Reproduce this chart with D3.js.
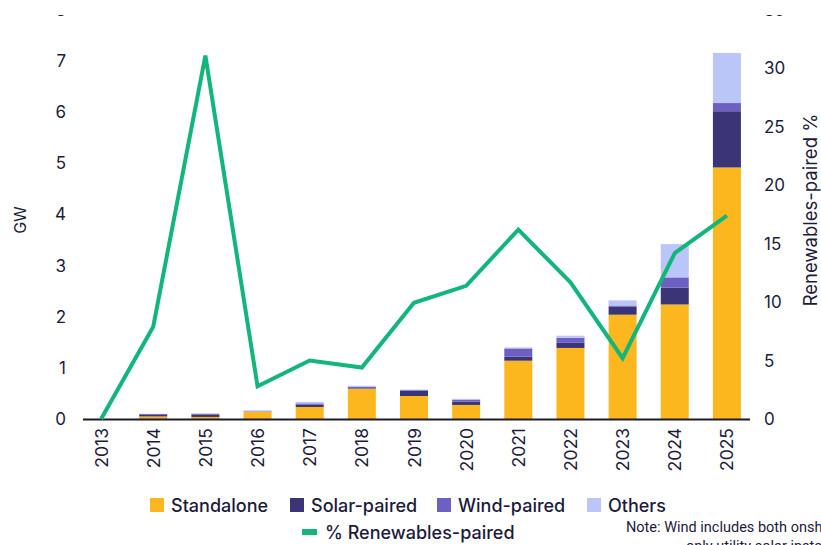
<!DOCTYPE html>
<html>
<head>
<meta charset="utf-8">
<script src="https://cdn.jsdelivr.net/npm/d3@7/dist/d3.min.js"></script>
<style>
  html, body { margin: 0; padding: 0; background: #fff; }
  svg { display: block; font-family: Inter, "Noto Sans", sans-serif; }
</style>
</head>
<body>
<svg id="chart" width="821" height="545"></svg>
<script>
// Battery storage additions by pairing type (GW) and share paired with renewables (%)
const years = ["2013","2014","2015","2016","2017","2018","2019","2020","2021","2022","2023","2024","2025"];
const standalone  = [0, 0.05, 0.04, 0.14, 0.235, 0.59, 0.45, 0.275, 1.14, 1.39, 2.04, 2.24, 4.92];
const solarPaired = [0, 0.04, 0.05, 0.00, 0.05, 0.01, 0.10, 0.065, 0.08, 0.10, 0.16, 0.33, 1.10];
const windPaired  = [0, 0.01, 0.01, 0.01, 0.02, 0.03, 0.015, 0.04, 0.16, 0.10, 0.02, 0.20, 0.16];
const others      = [0, 0.00, 0.01, 0.02, 0.03, 0.02, 0.01, 0.015, 0.02, 0.04, 0.10, 0.65, 0.98];
const renewablesPct = [0, 7.9, 31.1, 2.8, 5.0, 4.4, 9.95, 11.4, 16.2, 11.7, 5.2, 14.2, 17.4];

const gwTicks  = [0, 1, 2, 3, 4, 5, 6, 7, 8];
const pctTicks = [0, 5, 10, 15, 20, 25, 30, 35];

const seriesKeys   = ["Standalone", "Solar-paired", "Wind-paired", "Others"];
const seriesColors = ["#fdb71e", "#3b3577", "#6e5fc3", "#bac5f8"];
const lineLabel = "% Renewables-paired";
const lineColor = "#12b67a";
const textColor = "#1c1b3b";

const rows = years.map((y, i) => ({
  year: y,
  "Standalone": standalone[i],
  "Solar-paired": solarPaired[i],
  "Wind-paired": windPaired[i],
  "Others": others[i]
}));

const svg = d3.select("#chart");

// the figure is cut at the top edge
svg.append("defs").append("clipPath").attr("id", "crop")
  .append("rect").attr("x", 0).attr("y", 15).attr("width", 821).attr("height", 545);
const root = svg.append("g").attr("clip-path", "url(#crop)");

const x = d3.scaleBand().domain(years).range([75, 753]).paddingInner(0.463).paddingOuter(0.2315);
const yL = d3.scaleLinear().domain([0, 8]).range([419, 10]);
const yR = d3.scaleLinear().domain([0, 35]).range([419, 10]);

const stack = d3.stack().keys(seriesKeys)(rows);
const color = d3.scaleOrdinal().domain(seriesKeys).range(seriesColors);

// stacked bars
root.append("g").selectAll("g").data(stack).join("g")
  .attr("fill", d => color(d.key))
  .selectAll("rect").data(d => d).join("rect")
  .attr("x", d => x(d.data.year))
  .attr("width", x.bandwidth())
  .attr("y", d => yL(d[1]))
  .attr("height", d => yL(d[0]) - yL(d[1]));

// baseline
root.append("line")
  .attr("x1", 83).attr("x2", 750)
  .attr("y1", yL(0) + 0.5).attr("y2", yL(0) + 0.5)
  .attr("stroke", "#1c1b2b").attr("stroke-width", 2);

// renewables-paired share line
const line = d3.line()
  .x((d, i) => x(years[i]) + x.bandwidth() / 2)
  .y(d => yR(d));
root.append("path").datum(renewablesPct)
  .attr("d", line)
  .attr("fill", "none")
  .attr("stroke", lineColor)
  .attr("stroke-width", 4)
  .attr("stroke-linejoin", "miter");

// left axis
const leftAxis = root.append("g")
  .attr("transform", "translate(66,0)")
  .call(d3.axisLeft(yL).tickValues(gwTicks).tickSize(0).tickPadding(0).tickFormat(d3.format("d")));
leftAxis.select(".domain").remove();
leftAxis.selectAll("text").attr("fill", textColor).style("font-size", "17px").style("font-family", "Inter, sans-serif");

// right axis
const rightAxis = root.append("g")
  .attr("transform", "translate(764,0)")
  .call(d3.axisRight(yR).tickValues(pctTicks).tickSize(0).tickPadding(0).tickFormat(d3.format("d")));
rightAxis.select(".domain").remove();
rightAxis.selectAll("text").attr("fill", textColor).style("font-size", "17px").style("font-family", "Inter, sans-serif");

// bottom axis with rotated year labels
const bottomAxis = root.append("g")
  .attr("transform", `translate(0,${yL(0)})`)
  .call(d3.axisBottom(x).tickSize(0).tickPadding(0));
bottomAxis.select(".domain").remove();
bottomAxis.selectAll("text")
  .attr("fill", textColor)
  .style("font-size", "17.5px")
  .style("font-family", "Inter, sans-serif")
  .attr("text-anchor", "end")
  .attr("dominant-baseline", "central")
  .attr("transform", "translate(0,9) rotate(-90)")
  .attr("x", 0).attr("y", 0).attr("dy", null);

// axis titles
root.append("text")
  .attr("transform", "translate(20,220) rotate(-90)")
  .attr("text-anchor", "middle").attr("dominant-baseline", "central")
  .attr("fill", textColor).style("font-size", "16px")
  .text("GW");
root.append("text")
  .attr("transform", "translate(810,210) rotate(-90)")
  .attr("text-anchor", "middle").attr("dominant-baseline", "central")
  .attr("fill", textColor).style("font-size", "18.5px").style("font-weight", 400)
  .text("Renewables-paired %");

// legend
const legendX = [150, 290, 437, 587];
const legend = root.append("g");
seriesKeys.forEach((k, i) => {
  const g = legend.append("g").attr("transform", `translate(${legendX[i]},505)`);
  g.append("rect").attr("x", 0).attr("y", -7).attr("width", 14).attr("height", 14).attr("fill", color(k));
  g.append("text").attr("x", 21).attr("y", 0).attr("dominant-baseline", "central")
    .attr("fill", textColor).style("font-size", "18px").style("font-weight", 500).text(k);
});
const lg = legend.append("g").attr("transform", "translate(302,532)");
lg.append("rect").attr("x", 0).attr("y", -3).attr("width", 15).attr("height", 6).attr("fill", lineColor);
lg.append("text").attr("x", 23).attr("y", 0).attr("dominant-baseline", "central")
  .attr("fill", textColor).style("font-size", "18px").style("font-weight", 500).text(lineLabel);

// footnote
const note = root.append("text").attr("fill", textColor).style("font-size", "14.5px")
  .style("font-family", "Roboto, sans-serif");
note.append("tspan").attr("x", 626).attr("y", 532).text("Note: Wind includes both onshore and offshore wind projects;");
note.append("tspan").attr("x", 686).attr("y", 551).text("only utility solar installations are counted");
</script>
</body>
</html>
